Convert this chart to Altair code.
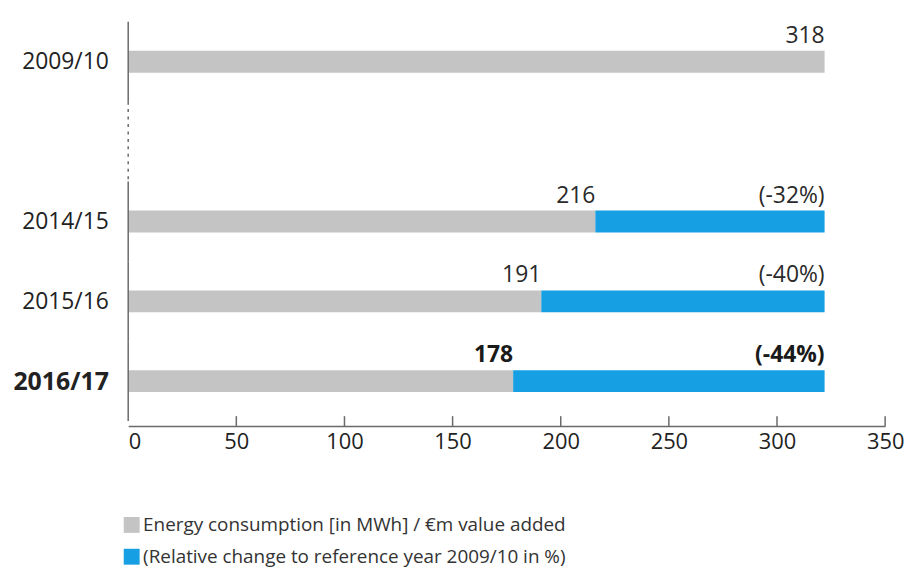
import altair as alt
import pandas as pd

# ---- data ----
years = ["2009/10", None, "2014/15", "2015/16", "2016/17"]   # None = broken-axis gap
energy = [318, None, 216, 191, 178]
change_labels = [None, None, "(-32%)", "(-40%)", "(-44%)"]
highlight_year = "2016/17"
bar_end = 322          # all bars end here in the picture
x_ticks = [0, 50, 100, 150, 200, 250, 300, 350]

series_grey = "Energy consumption [in MWh] / €m value added"
series_blue = "(Relative change to reference year 2009/10 in %)"

GREY = "#c4c4c4"
BLUE = "#169fe2"
AXIS = "#6a6a6a"
FONT = "Open Sans"
W, H = 762, 412

# ---- build tables ----
bars, labels = [], []
for slot, (yr, val, ch) in enumerate(zip(years, energy, change_labels)):
    if yr is None:
        continue
    hl = yr == highlight_year
    if ch is None:
        # reference year: full grey bar, value printed at its end
        bars.append(dict(slot=slot, series=series_grey, start=0, end=bar_end))
        labels.append(dict(slot=slot, x=bar_end, text=str(val), hl=hl))
    else:
        bars.append(dict(slot=slot, series=series_grey, start=0, end=val))
        bars.append(dict(slot=slot, series=series_blue, start=val, end=bar_end))
        labels.append(dict(slot=slot, x=val, text=str(val), hl=hl))
        labels.append(dict(slot=slot, x=bar_end, text=ch, hl=hl))
bars = pd.DataFrame(bars)
labels = pd.DataFrame(labels)

# axis segments: dotted over gaps, solid elsewhere
segs = pd.DataFrame([dict(y0=s - 0.5, y1=s + 0.5, dotted=yr is None)
                     for s, yr in enumerate(years)])
tick_df = pd.DataFrame({"t": [t for t in x_ticks if t > 0]})

slots = [i for i, y in enumerate(years) if y is not None]
label_expr = " : ".join(
    f"datum.value == {i} ? '{years[i]}'" for i in slots) + " : ''"
hl_slot = years.index(highlight_year)

yscale = alt.Scale(domain=[-0.5, len(years) - 0.5], reverse=True, nice=False, zero=False)
xscale = alt.Scale(domain=[0, 350], nice=False)

y_axis = alt.Axis(
    values=slots, labelExpr=label_expr, domain=False, ticks=False, grid=False,
    title=None, labelPadding=20, labelFont=FONT, labelColor="#222",
    labelFontSize={"condition": {"test": f"datum.value == {hl_slot}", "value": 25}, "value": 23},
    labelFontWeight={"condition": {"test": f"datum.value == {hl_slot}", "value": "bold"}, "value": "normal"},
)
x_axis = alt.Axis(
    values=x_ticks, ticks=False, grid=False, title=None, format="d",
    domainColor=AXIS, domainWidth=1.5, labelFont=FONT, labelFontSize=22,
    labelColor="#222", labelPadding=6,
    labelAlign={"condition": {"test": "datum.value == 0", "value": "left"}, "value": "center"},
)

bar_layer = alt.Chart(bars).mark_bar(size=22).encode(
    x=alt.X("start:Q", scale=xscale, axis=x_axis),
    x2="end:Q",
    y=alt.Y("slot:Q", scale=yscale, axis=y_axis),
    color=alt.Color(
        "series:N",
        scale=alt.Scale(domain=[series_grey, series_blue], range=[GREY, BLUE]),
        legend=alt.Legend(
            orient="none", legendX=-6, legendY=502, title=None,
            symbolType="square", symbolSize=256, symbolStrokeWidth=0,
            labelFont=FONT, labelFontSize=19, labelColor="#333",
            labelOffset=2, rowPadding=12, padding=0, labelLimit=800,
        ),
    ),
)

def text_layer(bold):
    return alt.Chart(labels).transform_filter(
        "datum.hl" if bold else "!datum.hl"
    ).mark_text(
        align="right", baseline="alphabetic", dy=-19, font=FONT, fontSize=23,
        fontWeight="bold" if bold else "normal", color="#1a1a1a" if bold else "#2a2a2a",
    ).encode(
        x=alt.X("x:Q", scale=xscale),
        y=alt.Y("slot:Q", scale=yscale),
        text="text:N",
    )

solid = alt.Chart(segs).transform_filter("!datum.dotted").mark_rule(
    color=AXIS, strokeWidth=1.5
).encode(x=alt.value(0), y=alt.Y("y0:Q", scale=yscale), y2="y1:Q")

dotted = alt.Chart(segs).transform_filter("datum.dotted").mark_rule(
    color=AXIS, strokeWidth=1.5, strokeDash=[3, 4.5]
).encode(x=alt.value(0), y=alt.Y("y0:Q", scale=yscale), y2="y1:Q")

ticks = alt.Chart(tick_df).mark_rule(color=AXIS, strokeWidth=1.5).encode(
    x=alt.X("t:Q", scale=xscale), y=alt.value(H - 10), y2=alt.value(H)
)

chart = alt.layer(
    bar_layer, text_layer(False), text_layer(True), solid, dotted, ticks
).properties(
    width=W, height=H,
    autosize=alt.AutoSizeParams(type="none"),
    padding={"left": 121, "top": 7, "right": 22, "bottom": 143},
).configure_view(stroke=None)

chart.save("out.html", embed_options={"renderer": "svg", "actions": False})
